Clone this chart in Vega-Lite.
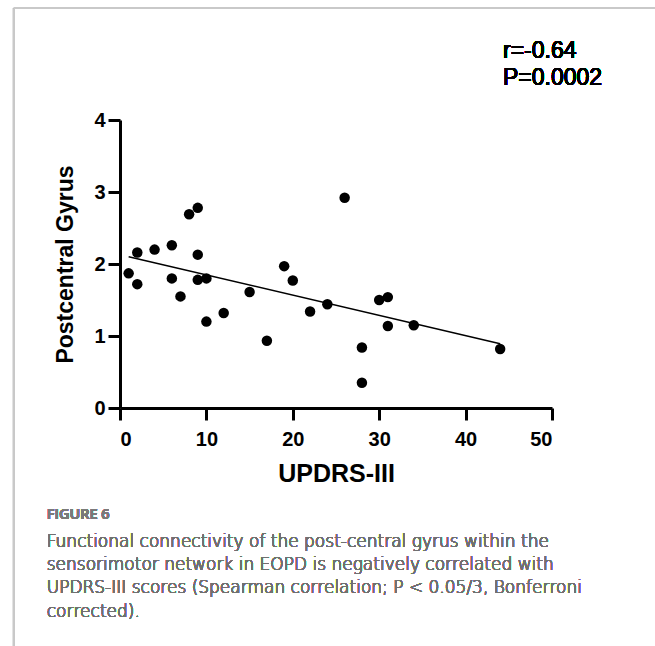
{
  "$schema": "https://vega.github.io/schema/vega-lite/v6.json",
  "width": 432,
  "height": 288,
  "autosize": {"type": "none"},
  "padding": {"left": 120, "top": 120, "right": 103, "bottom": 238},
  "background": "white",
  "config": {
    "view": {"stroke": null},
    "axis": {
      "grid": false,
      "domainColor": "black",
      "domainWidth": 3,
      "tickColor": "black",
      "tickWidth": 3,
      "tickSize": 12,
      "labelFont": "Liberation Sans",
      "labelFontSize": 20,
      "labelFontWeight": "bold",
      "labelColor": "black",
      "titleFont": "Liberation Sans",
      "titleFontWeight": "bold",
      "titleColor": "black"
    }
  },
  "data": {
    "values": [
      {"UPDRS": 1, "gyrus": 1.87},
      {"UPDRS": 2, "gyrus": 2.16},
      {"UPDRS": 2, "gyrus": 1.72},
      {"UPDRS": 4, "gyrus": 2.20},
      {"UPDRS": 6, "gyrus": 2.26},
      {"UPDRS": 6, "gyrus": 1.80},
      {"UPDRS": 7, "gyrus": 1.55},
      {"UPDRS": 8, "gyrus": 2.69},
      {"UPDRS": 9, "gyrus": 2.78},
      {"UPDRS": 9, "gyrus": 2.13},
      {"UPDRS": 9, "gyrus": 1.78},
      {"UPDRS": 10, "gyrus": 1.80},
      {"UPDRS": 10, "gyrus": 1.20},
      {"UPDRS": 12, "gyrus": 1.32},
      {"UPDRS": 15, "gyrus": 1.61},
      {"UPDRS": 17, "gyrus": 0.935},
      {"UPDRS": 19, "gyrus": 1.97},
      {"UPDRS": 20, "gyrus": 1.77},
      {"UPDRS": 22, "gyrus": 1.34},
      {"UPDRS": 24, "gyrus": 1.44},
      {"UPDRS": 26, "gyrus": 2.92},
      {"UPDRS": 28, "gyrus": 0.84},
      {"UPDRS": 28, "gyrus": 0.35},
      {"UPDRS": 30, "gyrus": 1.50},
      {"UPDRS": 31, "gyrus": 1.54},
      {"UPDRS": 31, "gyrus": 1.14},
      {"UPDRS": 34, "gyrus": 1.15},
      {"UPDRS": 44, "gyrus": 0.82}
    ]
  },
  "layer": [
    {
      "mark": {"type": "rule", "color": "#c9c9c9", "strokeWidth": 2, "clip": false},
      "encoding": {
        "x": {"datum": -12.27, "type": "quantitative", "scale": {"domain": [0, 50], "nice": false, "zero": false}},
        "y": {"datum": 5.556, "type": "quantitative", "scale": {"domain": [0, 4], "nice": false, "zero": false}},
        "y2": {"datum": -3.5}
      }
    },
    {
      "mark": {"type": "rule", "color": "#c9c9c9", "strokeWidth": 2, "clip": false},
      "encoding": {
        "x": {"datum": -12.27, "type": "quantitative", "scale": {"domain": [0, 50], "nice": false, "zero": false}},
        "x2": {"datum": 62},
        "y": {"datum": 5.556, "type": "quantitative", "scale": {"domain": [0, 4], "nice": false, "zero": false}}
      }
    },
    {
      "mark": {"type": "circle", "size": 110, "color": "black", "opacity": 1},
      "encoding": {
        "x": {
          "field": "UPDRS",
          "type": "quantitative",
          "scale": {"domain": [0, 50], "nice": false, "zero": false},
          "axis": {
            "values": [0, 10, 20, 30, 40, 50],
            "format": "d",
            "title": "UPDRS-III",
            "titleFontSize": 25,
            "titlePadding": 12,
            "labelPadding": 9
          }
        },
        "y": {
          "field": "gyrus",
          "type": "quantitative",
          "scale": {"domain": [0, 4], "nice": false, "zero": false},
          "axis": {
            "values": [0, 1, 2, 3, 4],
            "format": "d",
            "title": "Postcentral Gyrus",
            "titleFontSize": 23,
            "titlePadding": 16,
            "labelPadding": 3
          }
        }
      }
    },
    {
      "transform": [{"regression": "gyrus", "on": "UPDRS"}],
      "mark": {"type": "line", "color": "black", "strokeWidth": 1.5},
      "encoding": {
        "x": {"field": "UPDRS", "type": "quantitative", "scale": {"domain": [0, 50], "nice": false, "zero": false}},
        "y": {"field": "gyrus", "type": "quantitative", "scale": {"domain": [0, 4], "nice": false, "zero": false}}
      }
    },
    {
      "mark": {
        "type": "text",
        "align": "left",
        "baseline": "alphabetic",
        "font": "Liberation Sans",
        "fontSize": 23,
        "fontWeight": "normal",
        "lineHeight": 27,
        "color": "black",
        "clip": false
      },
      "encoding": {
        "x": {"datum": 44.33, "type": "quantitative", "scale": {"domain": [0, 50], "nice": false, "zero": false}},
        "y": {"datum": 4.857, "type": "quantitative", "scale": {"domain": [0, 4], "nice": false, "zero": false}},
        "text": {"value": ["r=-0.64", "P=0.0002"]}
      }
    },
    {
      "mark": {
        "type": "text",
        "align": "left",
        "baseline": "alphabetic",
        "font": "Open Sans",
        "fontSize": 14.5,
        "fontWeight": 600,
        "color": "#7a7a7a",
        "clip": false
      },
      "encoding": {
        "x": {"datum": -8.48, "type": "quantitative", "scale": {"domain": [0, 50], "nice": false, "zero": false}},
        "y": {"datum": -1.546, "type": "quantitative", "scale": {"domain": [0, 4], "nice": false, "zero": false}},
        "text": {"value": "FIGURE 6"}
      }
    },
    {
      "mark": {
        "type": "text",
        "align": "left",
        "baseline": "alphabetic",
        "font": "DejaVu Sans",
        "fontSize": 17,
        "fontWeight": 300,
        "lineHeight": 23.3,
        "color": "#707070",
        "clip": false
      },
      "encoding": {
        "x": {"datum": -8.48, "type": "quantitative", "scale": {"domain": [0, 50], "nice": false, "zero": false}},
        "y": {"datum": -1.926, "type": "quantitative", "scale": {"domain": [0, 4], "nice": false, "zero": false}},
        "text": {
          "value": [
            "Functional connectivity of the post-central gyrus within the",
            "sensorimotor network in EOPD is negatively correlated with",
            "UPDRS-III scores (Spearman correlation; P < 0.05/3, Bonferroni",
            "corrected)."
          ]
        }
      }
    }
  ]
}
